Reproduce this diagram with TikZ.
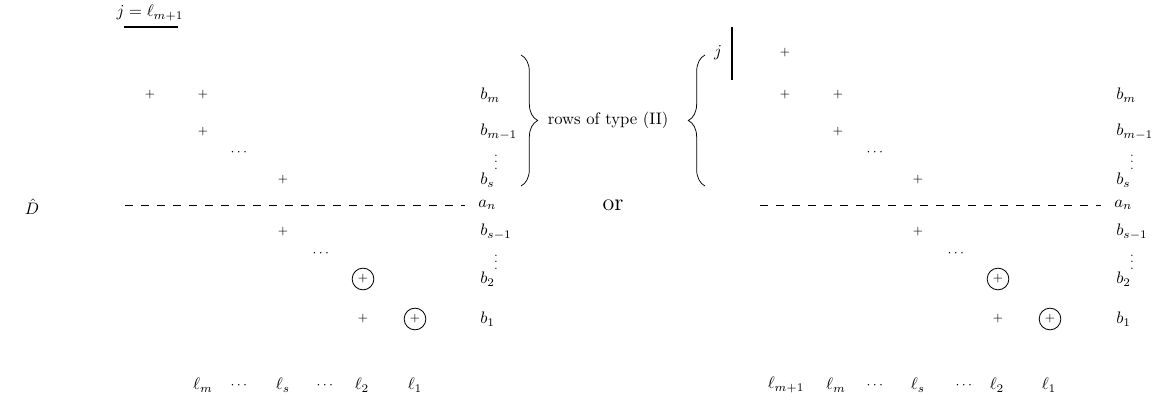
\documentclass[tikz,border=0pt]{standalone}
\usepackage{amsmath,amssymb}
\usepackage{xcolor}
\usepackage{tikz}
\usetikzlibrary{decorations.pathreplacing}
\tikzset{
  mx diagram/.style={x=0.6pt, y=-0.6pt, line cap=butt},
  mx plus/.style={font=\scriptsize, inner sep=1pt},
  mx cplus/.style={mx plus, circle, draw, line width=0.5pt,
    minimum size=13pt, inner sep=0pt},
  mx row/.style={anchor=west, inner sep=0pt},
  mx dots/.style={font=\footnotesize, inner sep=1pt},
  mx vdots/.style={font=\scriptsize, inner sep=0pt},
  mx col/.style={inner sep=1pt},
  mx split/.style={draw, dash pattern=on 5pt off 4.6pt, line width=0.45pt},
  mx bar/.style={draw, line width=1.3pt},
  mx brace/.style={draw, decorate, decoration={brace, amplitude=10pt},
    line width=0.45pt}
}

\begin{document}
\begin{tikzpicture}[mx diagram]
\useasboundingbox (0,0) rectangle (1156,402);

\node[inner sep=0pt] (dhat) at (32,207) {$\hat{D}$};
\node[font=\Large] (or) at (613,205) {or};

% left matrix
\node (jlab) at (150,13) {$j=\ell_{m+1}$};
\coordinate (ulA) at (124,27);
\coordinate (ulB) at (178,27);
\draw[mx bar] (ulA) -- (ulB);

\node[mx plus] (lp1) at (150,95) {$+$};
\node[mx plus] (lp2) at (203,95) {$+$};
\node[mx plus] (lp3) at (203,132) {$+$};
\node[mx dots] (ld1) at (240,152) {$\cdots$};
\node[mx plus] (lp4) at (283,180) {$+$};
\node[mx plus] (lp5) at (283,232) {$+$};
\node[mx dots] (ld2) at (322,253) {$\cdots$};
\node[mx cplus] (lc1) at (363,279) {$+$};
\node[mx plus] (lp6) at (363,319) {$+$};
\node[mx cplus] (lc2) at (415,319) {$+$};

\node[mx row] (lbm) at (480,95) {$b_m$};
\node[mx row] (lbm1) at (480,132) {$b_{m-1}$};
\node[mx vdots] (lv1) at (496,157) {$\vdots$};
\node[mx row] (lbs) at (480,180) {$b_s$};
\node[mx row] (lan) at (478,205) {$a_n$};
\node[mx row] (lbs1) at (480,232) {$b_{s-1}$};
\node[mx vdots] (lv2) at (496,257) {$\vdots$};
\node[mx row] (lb2) at (480,279) {$b_2$};
\node[mx row] (lb1) at (480,319) {$b_1$};

\coordinate (ldash) at (125,205);
\draw[mx split] (ldash) -- ([xshift=-8pt]lan.west);

\node[mx col] (lem) at (203,385) {$\ell_m$};
\node[mx dots] (led1) at (240,385) {$\cdots$};
\node[mx col] (les) at (283,385) {$\ell_s$};
\node[mx dots] (led2) at (326,385) {$\cdots$};
\node[mx col] (le2) at (362,385) {$\ell_2$};
\node[mx col] (le1) at (415,385) {$\ell_1$};

% braces
\coordinate (rbT) at (521,55);
\coordinate (rbB) at (521,186);
\draw[mx brace] (rbT) -- (rbB);
\node (rowsII) at (608,120) {rows of type (II)};
\coordinate (lbT) at (705,55);
\coordinate (lbB) at (705,186);
\draw[mx brace] (lbB) -- (lbT);

% right matrix
\node (jr) at (718,53) {$j$};
\coordinate (vbT) at (732,27);
\coordinate (vbB) at (732,80);
\draw[mx bar] (vbT) -- (vbB);

\node[mx plus] (rp0) at (785,53) {$+$};
\node[mx plus] (rp1) at (785,95) {$+$};
\node[mx plus] (rp2) at (838,95) {$+$};
\node[mx plus] (rp3) at (838,132) {$+$};
\node[mx dots] (rd1) at (876,152) {$\cdots$};
\node[mx plus] (rp4) at (918,180) {$+$};
\node[mx plus] (rp5) at (918,232) {$+$};
\node[mx dots] (rd2) at (957,253) {$\cdots$};
\node[mx cplus] (rc1) at (998,279) {$+$};
\node[mx plus] (rp6) at (998,319) {$+$};
\node[mx cplus] (rc2) at (1050,319) {$+$};

\node[mx row] (rbm) at (1116,95) {$b_m$};
\node[mx row] (rbm1) at (1116,132) {$b_{m-1}$};
\node[mx vdots] (rv1) at (1132,157) {$\vdots$};
\node[mx row] (rbs) at (1116,180) {$b_s$};
\node[mx row] (ran) at (1114,205) {$a_n$};
\node[mx row] (rbs1) at (1116,232) {$b_{s-1}$};
\node[mx vdots] (rv2) at (1132,257) {$\vdots$};
\node[mx row] (rb2) at (1116,279) {$b_2$};
\node[mx row] (rb1) at (1116,319) {$b_1$};

\coordinate (rdash) at (760,205);
\draw[mx split] (rdash) -- ([xshift=-8pt]ran.west);

\node[mx col] (rem1) at (786,385) {$\ell_{m+1}$};
\node[mx col] (rem) at (836,385) {$\ell_m$};
\node[mx dots] (red1) at (876,385) {$\cdots$};
\node[mx col] (res) at (918,385) {$\ell_s$};
\node[mx dots] (red2) at (965,385) {$\cdots$};
\node[mx col] (re2) at (997,385) {$\ell_2$};
\node[mx col] (re1) at (1049,385) {$\ell_1$};
\end{tikzpicture}
\end{document}
